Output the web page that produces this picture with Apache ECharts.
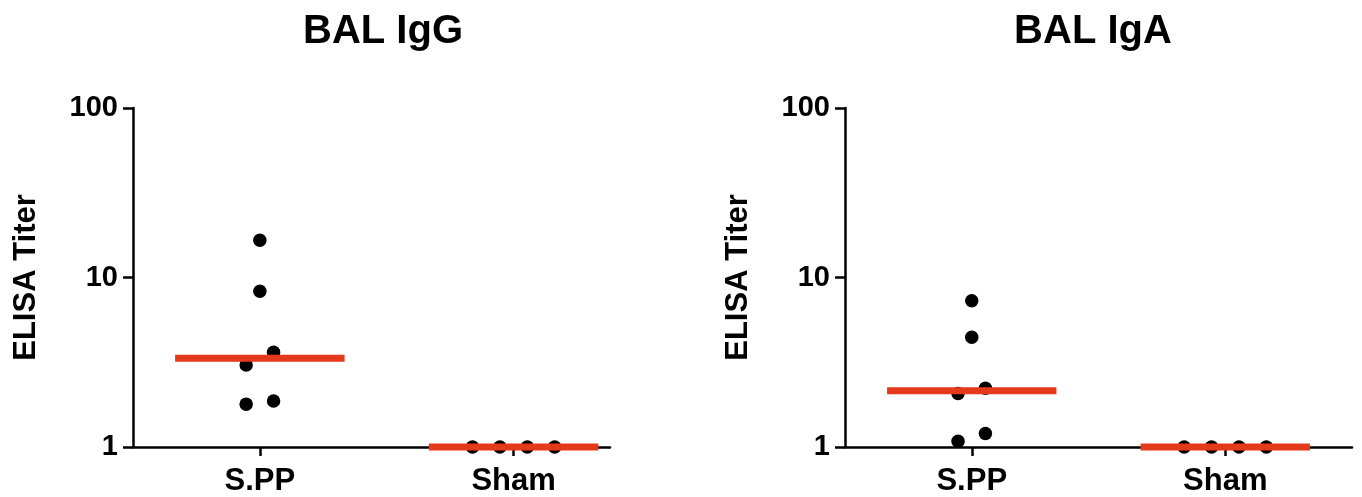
<!DOCTYPE html>
<html>
<head>
<meta charset="utf-8">
<style>
  html, body { margin: 0; padding: 0; background: #fff; }
  #chart { width: 1362px; height: 497px; }
</style>
<script src="https://cdn.jsdelivr.net/npm/echarts@6/dist/echarts.min.js"></script>
</head>
<body>
<div id="chart"></div>
<script>
(function() {
  var groups = ['S.PP', 'Sham'];
  var titles = ['BAL IgG', 'BAL IgA'];
  var yTicks = [1, 10, 100];

  // values
  var iggSpp = [16.6, 8.3, 3.62, 3.05, 1.87, 1.79];
  var iggSham = [1, 1, 1, 1];
  var igaSpp = [7.3, 4.44, 2.22, 2.07, 1.2, 1.08];
  var igaSham = [1, 1, 1, 1];

  var ink = '#000';
  var red = '#e5391b';
  var font = '"Liberation Sans", Arial, Helvetica, sans-serif';

  // horizontal spread of the dots (same layout Prism uses here)
  var sppSpread = [0, 0, 0.054, -0.054, 0.054, -0.054];
  var shamSpread = [-0.162, -0.054, 0.054, 0.162];

  function median(arr) {
    var s = arr.slice().sort(function(a, b) { return a - b; });
    var m = Math.floor(s.length / 2);
    return s.length % 2 ? s[m] : (s[m - 1] + s[m]) / 2;
  }

  function dots(vals, center, spread) {
    return vals.map(function(v, i) { return [center + spread[i], v]; });
  }

  function medianLine(vals, center) {
    var m = median(vals);
    return [[center - 0.334, m], [center + 0.334, m]];
  }

  var panels = [
    { spp: iggSpp, sham: iggSham, grid: { left: 133, width: 477 }, xMax: 2.38, titleX: 378 },
    { spp: igaSpp, sham: igaSham, grid: { left: 845, width: 507 }, xMax: 2.5, titleX: 1088 }
  ];

  var grid = [], xAxis = [], yAxis = [], series = [], title = [];

  panels.forEach(function(p, k) {
    grid.push({ left: p.grid.left, width: p.grid.width, top: 108, bottom: 50 });
    title.push({
      text: titles[k], left: p.titleX, top: 7, textAlign: 'center',
      textStyle: { fontFamily: font, fontWeight: 'bold', fontSize: 40, color: ink }
    });
    xAxis.push({
      type: 'value', gridIndex: k, min: 0.5, max: p.xMax,
      splitLine: { show: false },
      axisLine: { show: true, onZero: false, lineStyle: { color: ink, width: 2.5 } },
      axisTick: { show: true, customValues: [1, 2], length: 9, lineStyle: { color: ink, width: 2.5 } },
      axisLabel: {
        customValues: [1, 2], margin: 19,
        fontFamily: font, fontWeight: 'bold', fontSize: 31, color: ink,
        formatter: function(v) { return groups[Math.round(v) - 1] || ''; }
      }
    });
    yAxis.push({
      type: 'log', logBase: 10, gridIndex: k, min: 1, max: 100,
      name: 'ELISA Titer', nameLocation: 'middle', nameGap: 91,
      nameTextStyle: { fontFamily: font, fontWeight: 'bold', fontSize: 31, color: ink },
      splitLine: { show: false },
      axisLine: { show: true, lineStyle: { color: ink, width: 2.5 } },
      axisTick: { show: true, customValues: yTicks, length: 10, lineStyle: { color: ink, width: 2.5 } },
      axisLabel: {
        customValues: yTicks, margin: 15,
        fontFamily: font, fontWeight: 'bold', fontSize: 29, color: ink
      }
    });
    series.push({
      type: 'scatter', xAxisIndex: k, yAxisIndex: k, clip: false, z: 3,
      symbolSize: 13.5, itemStyle: { color: ink, opacity: 1 },
      data: dots(p.spp, 1, sppSpread).concat(dots(p.sham, 2, shamSpread))
    });
    [[p.spp, 1], [p.sham, 2]].forEach(function(g) {
      series.push({
        type: 'line', xAxisIndex: k, yAxisIndex: k, clip: false, z: 4,
        symbol: 'none', silent: true,
        lineStyle: { color: red, width: 7, cap: 'butt' },
        data: medianLine(g[0], g[1])
      });
    });
  });

  var chart = echarts.init(document.getElementById('chart'), null, { renderer: 'canvas' });
  chart.setOption({
    animation: false,
    backgroundColor: '#fff',
    title: title,
    grid: grid,
    xAxis: xAxis,
    yAxis: yAxis,
    series: series
  });
  window.addEventListener('resize', function() { chart.resize(); });
})();
</script>
</body>
</html>
